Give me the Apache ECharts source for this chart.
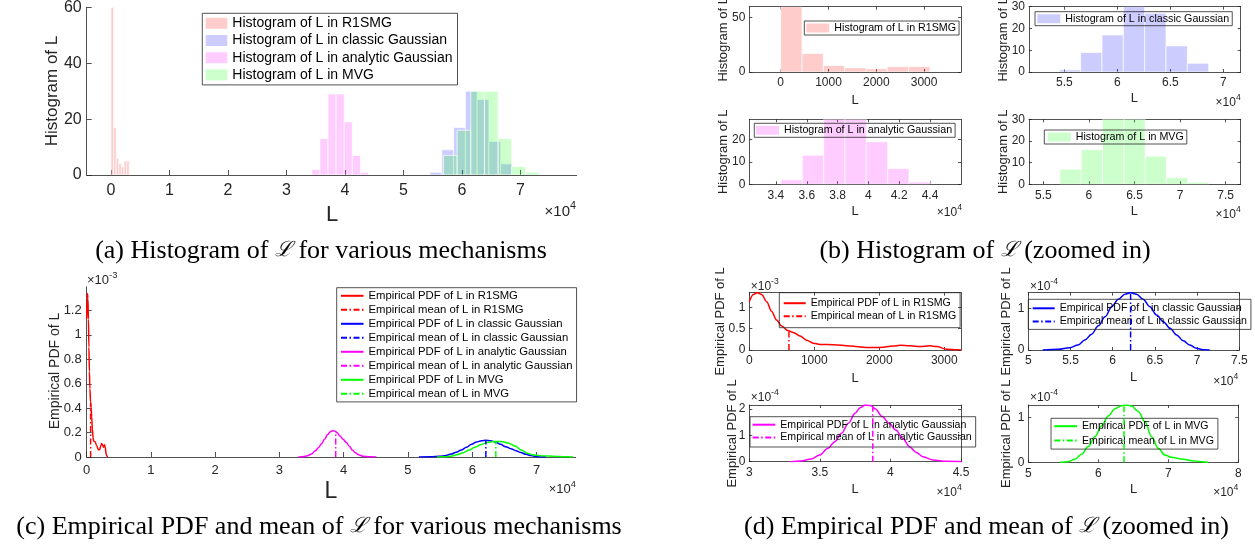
<!DOCTYPE html>
<html><head><meta charset="utf-8">
<script src="https://cdn.jsdelivr.net/npm/echarts@6/dist/echarts.min.js"></script>
<style>html,body{margin:0;padding:0;background:#fff}#c{width:1255px;height:548px}</style>
</head><body><div id="c"></div>
<script>
// ================= DATA =================
const mechanisms = ['R1SMG', 'classic Gaussian', 'analytic Gaussian', 'MVG'];

// histogram bin edges and counts
const histEdgesR1SMG = [0, 446, 892, 1338, 1784, 2230, 2676, 3122];
const histCountsR1SMG = [60, 17, 6, 4, 3, 5, 5];
const histEdgesClassic = [54530, 56543, 58556, 60569, 62582, 64595, 66608, 68621];
const histCountsClassic = [1, 9, 17, 30, 27, 12, 4];
const histEdgesAnalytic = [34325, 35710, 37095, 38480, 39865, 41250, 42635, 44020];
const histCountsAnalytic = [2, 13, 29, 29, 19, 7, 1];
const histEdgesMVG = [56825, 59161, 61497, 63833, 66169, 68505, 70841, 73177];
const histCountsMVG = [7, 16, 30, 30, 13, 3, 1];

// empirical PDFs
const pdfXR1SMG = [0, 62, 123, 190, 267, 344, 420, 497, 600, 677, 780, 882, 985, 1087, 1292, 1549, 1805, 2010, 2215, 2318, 2472, 2626, 2779, 2882, 3036, 3190, 3257];
const pdfYR1SMG = [1.13e-3, 1.30e-3, 1.34e-3, 1.30e-3, 1.13e-3, 0.90e-3, 0.70e-3, 0.56e-3, 0.45e-3, 0.41e-3, 0.33e-3, 0.23e-3, 0.16e-3, 0.13e-3, 0.125e-3, 0.094e-3, 0.06e-3, 0.06e-3, 0.094e-3, 0.11e-3, 0.10e-3, 0.08e-3, 0.10e-3, 0.08e-3, 0.02e-3, 0.005e-3, 0];
const pdfXClassic = [51700, 53550, 54900, 55900, 56700, 57500, 58300, 59100, 59900, 60660, 61450, 62120, 62830, 63600, 64400, 65200, 66000, 66800, 67570, 68360, 69150, 69900, 70700, 71500];
const pdfYClassic = [0, 0.016e-4, 0.056e-4, 0.12e-4, 0.24e-4, 0.38e-4, 0.58e-4, 0.80e-4, 1.04e-4, 1.22e-4, 1.34e-4, 1.376e-4, 1.34e-4, 1.22e-4, 1.04e-4, 0.84e-4, 0.68e-4, 0.52e-4, 0.36e-4, 0.22e-4, 0.12e-4, 0.04e-4, 0.008e-4, 0];
const pdfXAnalytic = [32930, 33650, 34375, 34976, 35580, 36060, 36540, 37020, 37500, 37860, 38220, 38580, 38940, 39420, 39900, 40380, 40870, 41350, 41830, 42300, 43030, 43990, 45070];
const pdfYAnalytic = [0, 0.025e-4, 0.10e-4, 0.25e-4, 0.51e-4, 0.76e-4, 1.08e-4, 1.46e-4, 1.84e-4, 2.05e-4, 2.15e-4, 2.13e-4, 2.0e-4, 1.71e-4, 1.46e-4, 1.20e-4, 0.89e-4, 0.57e-4, 0.35e-4, 0.19e-4, 0.06e-4, 0.013e-4, 0];
const pdfXMVG = [54520, 55710, 56670, 57620, 58570, 59520, 60480, 61430, 62380, 63330, 64050, 64760, 65710, 66670, 67620, 68570, 69520, 70480, 71900, 73330, 74760, 75710];
const pdfYMVG = [0, 0.015e-4, 0.067e-4, 0.18e-4, 0.35e-4, 0.57e-4, 0.81e-4, 1.03e-4, 1.19e-4, 1.26e-4, 1.274e-4, 1.25e-4, 1.13e-4, 0.90e-4, 0.57e-4, 0.31e-4, 0.16e-4, 0.11e-4, 0.074e-4, 0.037e-4, 0.015e-4, 0];

// empirical means and PDF height at the mean
const meanL = [610, 62120, 38750, 63670];
const pdfAtMean = [4.4e-4, 1.376e-4, 2.1e-4, 1.265e-4];

// tick values
const xTicksOverview = [0, 10000, 20000, 30000, 40000, 50000, 60000, 70000];
const yTicksHistOverview = [0, 20, 40, 60];
const yTicksPdfOverview = [0, 2e-4, 4e-4, 6e-4, 8e-4, 1e-3, 1.2e-3];
const xTicksR1SMG = [0, 1000, 2000, 3000];
const yTicksHistR1SMG = [0, 50];
const xTicksHistClassic = [55000, 60000, 65000, 70000];
const xTicksHistAnalytic = [34000, 36000, 38000, 40000, 42000, 44000];
const xTicksHistMVG = [55000, 60000, 65000, 70000, 75000];
const yTicksHist30 = [0, 10, 20, 30];
const yTicksHist29 = [0, 10, 20];
const yTicksPdfR1SMG = [0, 5e-4, 1e-3];
const xTicksPdfAnalytic = [30000, 35000, 40000, 45000];
const yTicksPdfAnalytic = [0, 1e-4, 2e-4];
const xTicksPdfClassic = [50000, 55000, 60000, 65000, 70000, 75000];
const xTicksPdfMVG = [50000, 60000, 70000, 80000];
const yTicksPdf1 = [0, 1e-4];

// ================= STYLE / LAYOUT =================
const FF = 'Liberation Sans';
const AX = '#262626';
const lineColors = ['#ff0000', '#0000ff', '#ff00ff', '#00ff00'];
const fillColors = ['rgba(255,0,0,0.2)', 'rgba(0,0,255,0.2)', 'rgba(255,0,255,0.2)', 'rgba(0,255,0,0.2)'];
const DASHDOT = [6, 2.5, 1.5, 2.5];

const grids = [], xAxes = [], yAxes = [], series = [], legends = [], texts = [];

function fmt(v, s) { return String(Math.round(v / s * 1000) / 1000); }

function panel(p) {
  const gi = grids.length;
  grids.push({ left: p.l, top: p.t, width: p.w, height: p.h, containLabel: false, outerBoundsMode: 'none', show: false });
  const lw = p.lw || 0.8;
  const mkX = (pos, show) => ({
    type: 'value', gridIndex: gi, position: pos, min: p.xr[0], max: p.xr[1],
    axisLine: { show: true, onZero: false, lineStyle: { color: AX, width: lw } },
    axisTick: { show: true, inside: true, length: p.tl, customValues: p.xt, lineStyle: { color: AX, width: lw } },
    axisLabel: { show: show, customValues: p.xt, formatter: v => fmt(v, p.xs), fontSize: p.fs, color: AX, fontFamily: FF, margin: p.xm },
    splitLine: { show: false }, silent: true
  });
  const mkY = (pos, show) => ({
    type: 'value', gridIndex: gi, position: pos, min: p.yr[0], max: p.yr[1],
    axisLine: { show: true, onZero: false, lineStyle: { color: AX, width: lw } },
    axisTick: { show: true, inside: true, length: p.tl, customValues: p.yt, lineStyle: { color: AX, width: lw } },
    axisLabel: { show: show, customValues: p.yt, formatter: v => fmt(v, p.ys), fontSize: p.fs, color: AX, fontFamily: FF, margin: p.ym },
    splitLine: { show: false }, silent: true
  });
  const xi = xAxes.length; xAxes.push(mkX('bottom', true));
  if (p.box) xAxes.push(mkX('top', false));
  const yi = yAxes.length; yAxes.push(mkY('left', true));
  if (p.box) yAxes.push(mkY('right', false));
  return { xi, yi };
}

function renderHist(params, api) {
  const p0 = api.coord([api.value(0), api.value(2)]);
  const p1 = api.coord([api.value(1), 0]);
  return { type: 'rect', shape: { x: p0[0], y: p0[1], width: p1[0] - p0[0], height: p1[1] - p0[1] },
    style: { fill: api.visual('color'), stroke: '#ffffff', lineWidth: 0.7 } };
}
function histSeries(k, edges, counts, ax) {
  return { type: 'custom', name: 'Histogram of L in ' + mechanisms[k], xAxisIndex: ax.xi, yAxisIndex: ax.yi,
    clip: true, silent: true, itemStyle: { color: fillColors[k] }, encode: { x: [0, 1], y: 2 },
    data: counts.map((c, i) => [edges[i], edges[i + 1], c]), renderItem: renderHist };
}
function pdfSeries(k, xs, ys, ax) {
  return { type: 'line', name: 'Empirical PDF of L in ' + mechanisms[k], xAxisIndex: ax.xi, yAxisIndex: ax.yi,
    data: xs.map((x, i) => [x, ys[i]]), symbol: 'none', showSymbol: false, smooth: 0.35, smoothMonotone: 'x',
    lineStyle: { color: lineColors[k], width: 1.5 }, itemStyle: { color: lineColors[k] }, silent: true, z: 3 };
}
function meanSeries(k, ax) {
  return { type: 'line', name: 'Empirical mean of L in ' + mechanisms[k], xAxisIndex: ax.xi, yAxisIndex: ax.yi,
    data: [[meanL[k], 0], [meanL[k], pdfAtMean[k]]], symbol: 'none', showSymbol: false,
    lineStyle: { color: lineColors[k], width: 1.5, type: DASHDOT }, itemStyle: { color: lineColors[k] }, silent: true, z: 4 };
}
function legend(names, l, t, pad, fs, iw, ih, gap, rect) {
  const lg = { orient: 'vertical', left: l, top: t, padding: pad, itemWidth: iw, itemHeight: ih, itemGap: gap,
    selectedMode: false, backgroundColor: 'transparent', borderColor: AX, borderWidth: 0.8, borderRadius: 0,
    textStyle: { fontSize: fs, fontFamily: FF, color: '#000' },
    data: names.map(n => rect ? { name: n, icon: 'rect' } : { name: n }) };
  lg.itemStyle = rect ? { borderWidth: 0 } : { color: 'rgba(0,0,0,0)', borderColor: 'rgba(0,0,0,0)', borderWidth: 0 };
  legends.push(lg);
}
function txt(text, x, y, fs, o) {
  o = o || {};
  texts.push({ type: 'text', x: x, y: y, rotation: o.rot || 0, silent: true, z: 50,
    style: { text: text, fontSize: fs, fontFamily: o.ff || FF, fill: o.fill || AX, align: o.align || 'center',
      verticalAlign: 'middle', rich: o.rich } });
}
function expo(e, x, y, fs, align) {
  txt('{b|×10}{s|' + e + '}', x, y, fs, { align: align, rich: {
    b: { fontSize: fs, fontFamily: FF, fill: AX, verticalAlign: 'bottom' },
    s: { fontSize: fs * 0.72, fontFamily: FF, fill: AX, verticalAlign: 'bottom', padding: [0, 0, fs * 0.55, 0] } } });
}
const histNames = mechanisms.map(m => 'Histogram of L in ' + m);
const pdfName = k => 'Empirical PDF of L in ' + mechanisms[k];
const meanName = k => 'Empirical mean of L in ' + mechanisms[k];

// ---------- (a) histogram overview ----------
const axA = panel({ l: 86.7, t: 7.3, w: 490, h: 167.7, xr: [-4150, 79600], yr: [0, 60], xt: xTicksOverview, yt: yTicksHistOverview,
  xs: 1e4, ys: 1, fs: 16, tl: 5, box: false, xm: 8, ym: 5 });
series.push(histSeries(0, histEdgesR1SMG, histCountsR1SMG, axA));
series.push(histSeries(1, histEdgesClassic, histCountsClassic, axA));
series.push(histSeries(2, histEdgesAnalytic, histCountsAnalytic, axA));
series.push(histSeries(3, histEdgesMVG, histCountsMVG, axA));
legend(histNames, 202.3, 13.3, [3, 5, 3, 3.4], 14, 21.6, 11, 3.2, true);
txt('Histogram of L', 52, 91, 17, { rot: Math.PI / 2 });
txt('L', 332, 215, 22);
expo('4', 576, 210, 15, 'right');

// ---------- (b) histograms zoomed ----------
const bCommon = { fs: 12, tl: 3, box: true, xm: 5, ym: 4, ys: 1 };
const axB0 = panel(Object.assign({ l: 749.3, t: 6.7, w: 211.7, h: 65.3, xr: [-657, 3772], yr: [0, 60], xt: xTicksR1SMG, yt: yTicksHistR1SMG, xs: 1 }, bCommon));
const axB1 = panel(Object.assign({ l: 1029, t: 6.7, w: 211.7, h: 65.3, xr: [51670, 71640], yr: [0, 30], xt: xTicksHistClassic, yt: yTicksHist30, xs: 1e4 }, bCommon));
const axB2 = panel(Object.assign({ l: 749.3, t: 119.3, w: 211.7, h: 65, xr: [32270, 46010], yr: [0, 29], xt: xTicksHistAnalytic, yt: yTicksHist29, xs: 1e4 }, bCommon));
const axB3 = panel(Object.assign({ l: 1029, t: 119.3, w: 211.7, h: 65, xr: [53430, 76650], yr: [0, 30], xt: xTicksHistMVG, yt: yTicksHist30, xs: 1e4 }, bCommon));
series.push(histSeries(0, histEdgesR1SMG, histCountsR1SMG, axB0));
series.push(histSeries(1, histEdgesClassic, histCountsClassic, axB1));
series.push(histSeries(2, histEdgesAnalytic, histCountsAnalytic, axB2));
series.push(histSeries(3, histEdgesMVG, histCountsMVG, axB3));
legend([histNames[0]], 804.3, 21, [1.5, 3, 1.5, 2], 10.7, 23, 9, 2, true);
legend([histNames[1]], 1035, 11.7, [1.5, 3, 1.5, 2.3], 10.7, 23, 9, 2, true);
legend([histNames[2]], 754.3, 123.3, [1.5, 3, 1.5, 1.7], 10.7, 23, 9, 2, true);
legend([histNames[3]], 1044.3, 130, [1.5, 3, 1.5, 3.4], 10.7, 23, 9, 2, true);
txt('Histogram of L', 723, 39.3, 13, { rot: Math.PI / 2 });
txt('Histogram of L', 723, 151.8, 13, { rot: Math.PI / 2 });
txt('Histogram of L', 1003, 39.3, 13, { rot: Math.PI / 2 });
txt('Histogram of L', 1003, 151.8, 13, { rot: Math.PI / 2 });
txt('L', 855, 100, 13); txt('L', 855, 211, 13);
txt('L', 1134.3, 98.5, 13); txt('L', 1134.3, 211, 13);
expo('4', 962, 211, 12, 'right');
expo('4', 1240.7, 101, 12, 'right');
expo('4', 1240.7, 212.5, 12, 'right');

// ---------- (c) PDF overview ----------
const axC = panel({ l: 86.7, t: 286.7, w: 489, h: 170.3, xr: [0, 76100], yr: [0, 1.395e-3], xt: xTicksOverview, yt: yTicksPdfOverview,
  xs: 1e4, ys: 1e-3, fs: 13, tl: 5, box: false, xm: 7, ym: 5 });
series.push(pdfSeries(0, pdfXR1SMG, pdfYR1SMG, axC), meanSeries(0, axC));
series.push(pdfSeries(1, pdfXClassic, pdfYClassic, axC), meanSeries(1, axC));
series.push(pdfSeries(2, pdfXAnalytic, pdfYAnalytic, axC), meanSeries(2, axC));
series.push(pdfSeries(3, pdfXMVG, pdfYMVG, axC), meanSeries(3, axC));
legend([pdfName(0), meanName(0), pdfName(1), meanName(1), pdfName(2), meanName(2), pdfName(3), meanName(3)],
  336.7, 287.7, [2.6, 4, 2.6, 3.3], 11.3, 22.5, 10, 3, false);
txt('Empirical PDF of L', 55, 371, 14, { rot: Math.PI / 2 });
txt('L', 331, 491.7, 23);
expo('-3', 87, 279, 13, 'left');
expo('4', 576, 488, 13, 'right');

// ---------- (d) PDF zoomed ----------
const dCommon = { fs: 12, tl: 3, box: true, xm: 5, ym: 4 };
const axD0 = panel(Object.assign({ l: 749.3, t: 292.7, w: 211.7, h: 57.3, xr: [0, 3257], yr: [0, 1.34e-3], xt: xTicksR1SMG, yt: yTicksPdfR1SMG, xs: 1, ys: 1e-3 }, dCommon));
const axD1 = panel(Object.assign({ l: 1028.3, t: 292.7, w: 211, h: 57.3, xr: [50000, 75000], yr: [0, 1.376e-4], xt: xTicksPdfClassic, yt: yTicksPdf1, xs: 1e4, ys: 1e-4 }, dCommon));
const axD2 = panel(Object.assign({ l: 749.3, t: 405, w: 211.7, h: 56.7, xr: [30000, 45000], yr: [0, 2.15e-4], xt: xTicksPdfAnalytic, yt: yTicksPdfAnalytic, xs: 1e4, ys: 1e-4 }, dCommon));
const axD3 = panel(Object.assign({ l: 1028.3, t: 405, w: 210, h: 57.3, xr: [50000, 80000], yr: [0, 1.274e-4], xt: xTicksPdfMVG, yt: yTicksPdf1, xs: 1e4, ys: 1e-4 }, dCommon));
series.push(pdfSeries(0, pdfXR1SMG, pdfYR1SMG, axD0), meanSeries(0, axD0));
series.push(pdfSeries(1, pdfXClassic, pdfYClassic, axD1), meanSeries(1, axD1));
series.push(pdfSeries(2, pdfXAnalytic, pdfYAnalytic, axD2), meanSeries(2, axD2));
series.push(pdfSeries(3, pdfXMVG, pdfYMVG, axD3), meanSeries(3, axD3));
legend([pdfName(0), meanName(0)], 779.3, 292.7, [5, 4, 6, 3.4], 10.6, 22, 10, 2, false);
legend([pdfName(1), meanName(1)], 1028.3, 299.3, [3.5, 4, 2.5, 3.4], 10.6, 22, 10, 2.1, false);
legend([pdfName(2), meanName(2)], 750, 416.7, [2.5, 4, 4, 1.7], 10.6, 22.6, 10, 1.8, false);
legend([pdfName(3), meanName(3)], 1051, 418.3, [2.4, 4, 3, 2.3], 10.6, 22.7, 10, 3.4, false);
txt('Empirical PDF of L', 720, 321.4, 13, { rot: Math.PI / 2 });
txt('Empirical PDF of L', 732, 433.4, 13, { rot: Math.PI / 2 });
txt('Empirical PDF of L', 1006.7, 321.4, 13, { rot: Math.PI / 2 });
txt('Empirical PDF of L', 1006.7, 433.7, 13, { rot: Math.PI / 2 });
txt('L', 855, 378.3, 13); txt('L', 855, 489.3, 13);
txt('L', 1133.7, 377.3, 13); txt('L', 1133.7, 489.3, 13);
expo('-3', 750.7, 284.5, 12, 'left');
expo('-4', 1030, 284.5, 12, 'left');
expo('-4', 750.7, 396, 12, 'left');
expo('-4', 1030, 396, 12, 'left');
expo('4', 961.7, 491, 12, 'right');
expo('4', 1238.3, 379.5, 12, 'right');
expo('4', 1238.3, 491, 12, 'right');

// ---------- captions ----------
const capRich = { i: { fontStyle: 'italic', fontFamily: 'DejaVu Serif', fontSize: 21, fill: '#000' } };
txt('(a) Histogram of {i|ℒ} for various mechanisms', 321, 250.7, 26, { ff: 'Liberation Serif', fill: '#000', rich: capRich });
txt('(b) Histogram of {i|ℒ} (zoomed in)', 985, 250.7, 26, { ff: 'Liberation Serif', fill: '#000', rich: capRich });
txt('(c) Empirical PDF and mean of {i|ℒ} for various mechanisms', 319, 527, 26, { ff: 'Liberation Serif', fill: '#000', rich: capRich });
txt('(d) Empirical PDF and mean of {i|ℒ} (zoomed in)', 986.5, 527, 26, { ff: 'Liberation Serif', fill: '#000', rich: capRich });

const chart = echarts.init(document.getElementById('c'), null, { renderer: 'canvas' });
chart.setOption({
  animation: false,
  backgroundColor: '#ffffff',
  textStyle: { fontFamily: FF },
  grid: grids, xAxis: xAxes, yAxis: yAxes, series: series, legend: legends,
  graphic: { elements: texts }
});
</script>
</body></html>
